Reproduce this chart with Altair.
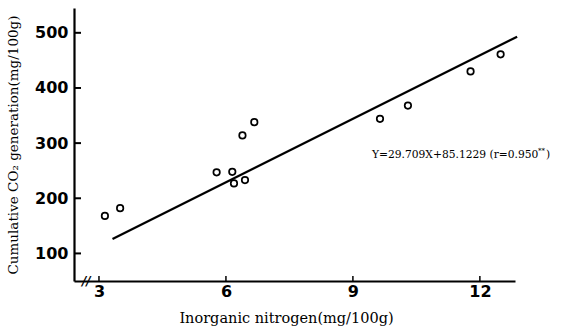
import altair as alt
import pandas as pd

# data
nitrogen = [3.14, 3.50, 5.78, 6.15, 6.19, 6.45, 6.39, 6.67, 9.64, 10.30, 11.78, 12.49]
co2 = [168, 182, 247, 248, 227, 233, 314, 338, 344, 368, 430, 461]
line_x = [3.32, 12.88]
line_y = [126, 493]
x_ticks = [3, 6, 9, 12]
y_ticks = [100, 200, 300, 400, 500]
equation = "Y=29.709X+85.1229 (r=0.950"
eq_pos = (9.45, 279)
break_pos = (2.70, 50)

pts = pd.DataFrame({"x": nitrogen, "y": co2})
ln = pd.DataFrame({"x": line_x, "y": line_y})
yt = pd.DataFrame({"y": y_ticks})
xt = pd.DataFrame({"x": x_ticks})
eq = pd.DataFrame({"x": [eq_pos[0]], "y": [eq_pos[1]], "t": [equation]})
brk = pd.DataFrame({"x": [break_pos[0]], "y": [break_pos[1]], "t": ["//"]})

xs = alt.Scale(domain=[2.41, 12.83], nice=False, zero=False)
ys = alt.Scale(domain=[50, 545], nice=False, zero=False)

xaxis = alt.Axis(values=x_ticks, title="Inorganic nitrogen(mg/100g)", ticks=False,
                 labelPadding=2, titlePadding=12, grid=False, titleFontSize=14.5,
                 titleX=212, titleAlign="center")
yaxis = alt.Axis(values=y_ticks, title="Cumulative CO₂ generation(mg/100g)", ticks=False,
                 labelPadding=6, titlePadding=14, grid=False)

X = alt.X("x:Q", scale=xs, axis=xaxis)
Y = alt.Y("y:Q", scale=ys, axis=yaxis)

points = alt.Chart(pts).mark_point(shape="circle", filled=False, color="black",
                                   size=42, strokeWidth=1.7, opacity=1).encode(x=X, y=Y)

line = alt.Chart(ln).mark_line(color="black", strokeWidth=2.2, clip=False).encode(x=X, y=Y)

ytick_marks = alt.Chart(yt).mark_rule(color="black", strokeWidth=2).encode(
    x=alt.value(0), x2=alt.value(7), y=Y,
)

xtick_marks = alt.Chart(xt).mark_rule(color="black", strokeWidth=1.5).encode(
    x=X, y=alt.value(268), y2=alt.value(273),
)

eq_text = alt.Chart(eq).mark_text(align="left", baseline="middle", font="DejaVu Serif",
                                  fontSize=10.7, color="black").encode(x=X, y=Y, text="t:N")

sup = alt.Chart(eq).mark_text(align="left", baseline="middle", font="DejaVu Serif",
                              fontSize=7, color="black", dx=166, dy=-4).encode(
    x=X, y=Y, text=alt.value("**"))

close_p = alt.Chart(eq).mark_text(align="left", baseline="middle", font="DejaVu Serif",
                                  fontSize=10.7, color="black", dx=174).encode(
    x=X, y=Y, text=alt.value(")"))

brk_text = alt.Chart(brk).mark_text(align="center", baseline="middle", font="DejaVu Sans",
                                    fontSize=12, fontWeight="bold", fontStyle="italic",
                                    color="black", clip=False).encode(x=X, y=Y, text="t:N")

chart = alt.layer(points, line, ytick_marks, xtick_marks, eq_text, sup, close_p, brk_text).properties(
    width=441, height=273,
    autosize=alt.AutoSizeParams(type="none"),
    padding={"left": 74, "top": 8, "right": 46, "bottom": 51},
    background="white",
).configure_view(stroke=None).configure_axis(
    domainColor="black", domainWidth=2.2,
    labelFont="DejaVu Sans", labelFontWeight="bold", labelFontSize=16, labelColor="black",
    titleFont="DejaVu Serif", titleFontWeight="normal", titleFontSize=13.5, titleColor="black",
)

chart.save("out.html", embed_options={"renderer": "svg", "actions": False})
